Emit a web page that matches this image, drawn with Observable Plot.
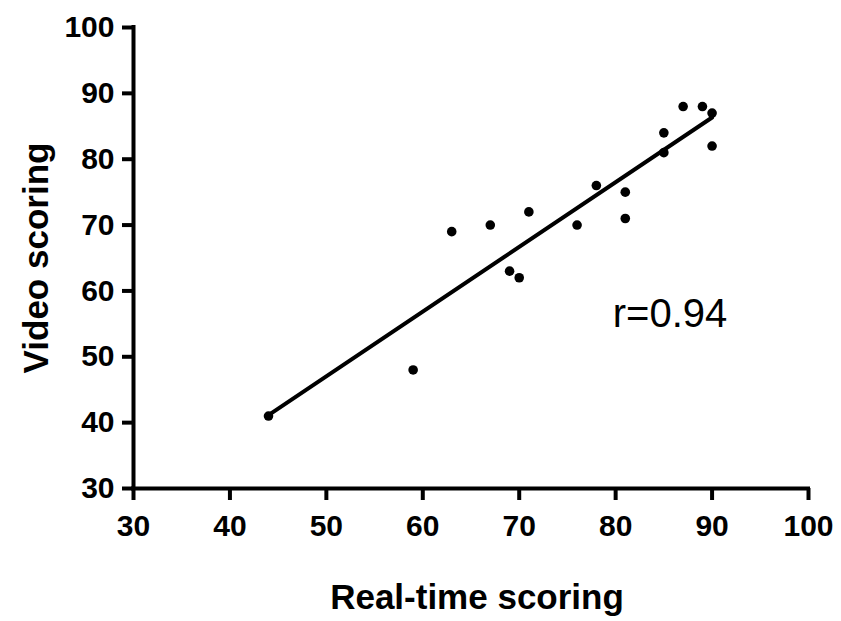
<!DOCTYPE html>
<html>
<head>
<meta charset="utf-8">
<script src="https://cdn.jsdelivr.net/npm/d3@7"></script>
<script src="https://cdn.jsdelivr.net/npm/@observablehq/plot@0.6"></script>
<style>
  html, body { margin: 0; padding: 0; background: #fff; }
  #chart { width: 841px; height: 621px; }
</style>
</head>
<body>
<div id="chart"></div>
<script>
// Paired scores for each subject: real-time rating vs. rating from video
const realTime = [44, 59, 63, 67, 69, 70, 71, 76, 78, 81, 81, 85, 85, 87, 89, 90, 90];
const video    = [41, 48, 69, 70, 63, 62, 72, 70, 76, 75, 71, 84, 81, 88, 88, 87, 82];
const ticks = [30, 40, 50, 60, 70, 80, 90, 100];
const xTitle = "Real-time scoring";
const yTitle = "Video scoring";
const corrLabel = "r=0.94";

const data = realTime.map((x, i) => ({x, y: video[i]}));
const font = "'Liberation Sans', Arial, Helvetica, sans-serif";

const chart = Plot.plot({
  width: 841,
  height: 621,
  marginLeft: 133,
  marginRight: 33,
  marginTop: 27,
  marginBottom: 133,
  style: {fontFamily: font, fontSize: "30px", color: "#000", background: "#fff"},
  x: {domain: [30, 100]},
  y: {domain: [30, 100]},
  marks: [
    // axis lines
    Plot.ruleY([30], {stroke: "#000", strokeWidth: 4, strokeLinecap: "square"}),
    Plot.ruleX([30], {stroke: "#000", strokeWidth: 4, strokeLinecap: "square"}),
    Plot.axisX({ticks, tickSize: 12, tickPadding: 14, strokeWidth: 4, fontWeight: "bold", fontSize: 30, label: null}),
    Plot.axisY({ticks, tickSize: 11, tickPadding: 8, strokeWidth: 4, fontWeight: "bold", fontSize: 30, label: null}),
    // least-squares fit over the observed range
    Plot.linearRegressionY(data, {x: "x", y: "y", ci: 0, stroke: "#000", strokeWidth: 4}),
    Plot.dot(data, {x: "x", y: "y", r: 4.8, fill: "#000", stroke: "none"}),
    Plot.text([corrLabel], {x: () => 79.7, y: () => 56.4, text: d => d, textAnchor: "start", lineAnchor: "middle", fontSize: 40, fontWeight: "normal", fill: "#000"}),
    // axis titles
    Plot.text([xTitle], {frameAnchor: "bottom", dx: 6, dy: 109, textAnchor: "middle", lineAnchor: "middle", fontSize: 35, fontWeight: "bold", fill: "#000"}),
    Plot.text([yTitle], {frameAnchor: "left", dx: -97, rotate: -90, textAnchor: "middle", lineAnchor: "middle", fontSize: 35, fontWeight: "bold", fill: "#000"})
  ]
});

document.getElementById("chart").appendChild(chart);
</script>
</body>
</html>
